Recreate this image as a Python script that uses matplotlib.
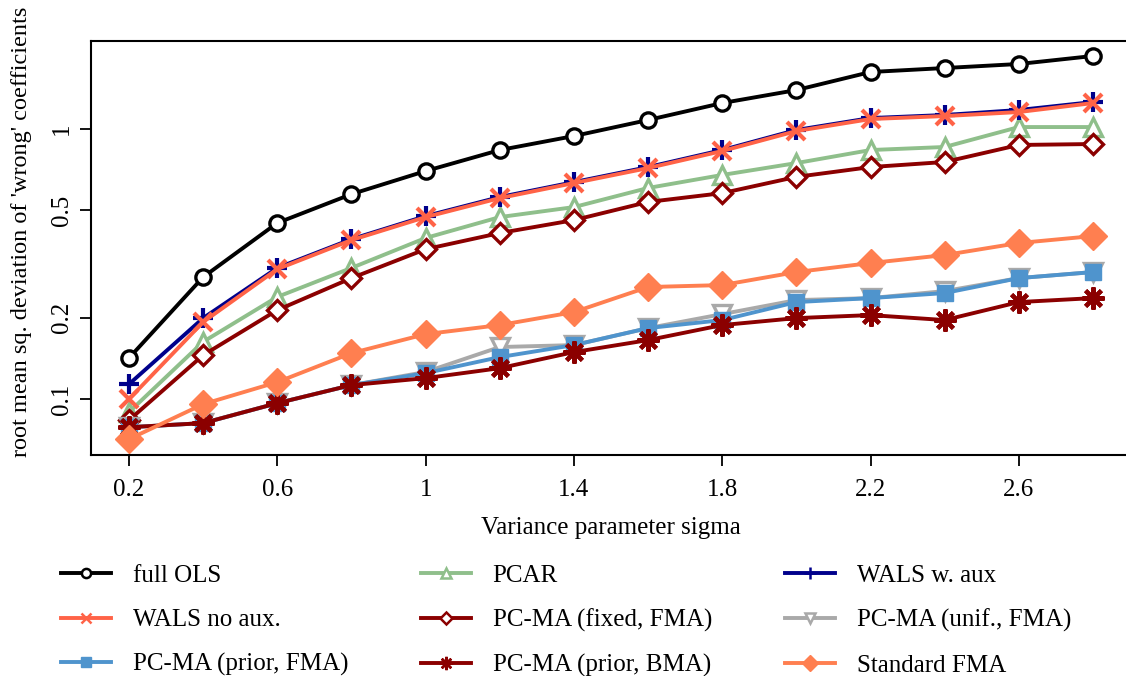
import numpy as np
import matplotlib
matplotlib.use("Agg")
import matplotlib.pyplot as plt

plt.rcParams['font.family'] = ['Liberation Serif', 'DejaVu Serif']

# sigma values on the x axis
sigma = [0.2, 0.4, 0.6, 0.8, 1.0, 1.2, 1.4, 1.6, 1.8, 2.0, 2.2, 2.4, 2.6, 2.8]

# rmse of 'wrong' coefficients
full_ols = [0.142, 0.283, 0.449, 0.574, 0.699, 0.836, 0.942, 1.080, 1.248, 1.394, 1.626, 1.682, 1.741, 1.864]
pcar = [0.0895, 0.163, 0.239, 0.306, 0.395, 0.472, 0.514, 0.605, 0.676, 0.748, 0.836, 0.858, 1.017, 1.017]
wals_aux = [0.1136, 0.1995, 0.306, 0.391, 0.476, 0.560, 0.636, 0.723, 0.836, 0.992, 1.098, 1.127, 1.176, 1.259]
wals_noaux = [0.100, 0.193, 0.303, 0.388, 0.472, 0.555, 0.631, 0.717, 0.829, 0.983, 1.089, 1.117, 1.156, 1.248]
pcma_fixed = [0.0836, 0.1455, 0.2136, 0.2806, 0.359, 0.412, 0.460, 0.537, 0.579, 0.665, 0.723, 0.755, 0.873, 0.880]
pcma_unif = [0.0787, 0.0815, 0.0966, 0.1127, 0.1260, 0.1559, 0.1585, 0.1832, 0.2064, 0.2326, 0.2366, 0.2512, 0.2806, 0.2954]
pcma_prior_fma = [0.0787, 0.0815, 0.0966, 0.1127, 0.1248, 0.1431, 0.1585, 0.1832, 0.1962, 0.2287, 0.2366, 0.247, 0.2806, 0.2954]
pcma_prior_bma = [0.0787, 0.0815, 0.0966, 0.1127, 0.1196, 0.1302, 0.1493, 0.1654, 0.188, 0.1995, 0.2047, 0.1962, 0.2287, 0.2366]
std_fma = [0.0711, 0.0958, 0.1156, 0.148, 0.174, 0.188, 0.210, 0.260, 0.2644, 0.2954, 0.319, 0.3415, 0.3784, 0.4015]

xticks = [0.2, 0.6, 1.0, 1.4, 1.8, 2.2, 2.6]
xticklabels = ['0.2', '0.6', '1', '1.4', '1.8', '2.2', '2.6']
yticks = [0.1, 0.2, 0.5, 1.0]
yticklabels = ['0.1', '0.2', '0.5', '1']

fig = plt.figure(figsize=(11.26, 6.76), dpi=100)
ax = fig.add_axes([91/1126, 1-455/676, 1040/1126, 414/676])

lw = 2.8
ms = 11
mew = 2.4

lines = {}
# halo so the black line stops short of its circles
ax.plot(sigma, full_ols, ls='none', marker='o', ms=17, color='white', zorder=2)
lines['full OLS'] = ax.plot(sigma, full_ols, color='black', lw=lw, marker='o', ms=ms, mfc='white', mew=mew, zorder=3)[0]
lines['PCAR'] = ax.plot(sigma, pcar, color='#8fbf8b', lw=lw, marker='^', ms=13, mfc='white', mew=mew)[0]
lines['WALS w. aux'] = ax.plot(sigma, wals_aux, color='#00008b', lw=lw, marker='+', ms=15, mew=3)[0]
lines['WALS no aux.'] = ax.plot(sigma, wals_noaux, color='#ff6347', lw=lw, marker='x', ms=13, mew=3)[0]
lines['PC-MA (fixed, FMA)'] = ax.plot(sigma, pcma_fixed, color='#8b0000', lw=lw, marker='D', ms=10, mfc='white', mew=mew)[0]
lines['PC-MA (unif., FMA)'] = ax.plot(sigma, pcma_unif, color='#a9a9a9', lw=lw, marker='v', ms=13, mfc='white', mew=mew)[0]
lines['PC-MA (prior, FMA)'] = ax.plot(sigma, pcma_prior_fma, color='#4f94cd', lw=lw, marker='s', ms=12)[0]
lines['PC-MA (prior, BMA)'] = ax.plot(sigma, pcma_prior_bma, color='#8b0000', lw=lw, marker=(8, 2, 0), ms=16, mew=3)[0]
lines['Standard FMA'] = ax.plot(sigma, std_fma, color='#ff7f50', lw=lw, marker='D', ms=14)[0]

ax.set_yscale('log')
ax.set_xlim(0.0975, 2.9025)
ax.set_ylim(0.0621, 2.118)
ax.set_xticks(xticks)
ax.set_xticklabels(xticklabels)
ax.set_yticks(yticks)
ax.set_yticklabels(yticklabels, rotation=90, va='center')
ax.minorticks_off()
ax.tick_params(labelsize=18, length=8, width=1.3, direction='out')
ax.tick_params(axis='x', pad=9)
ax.tick_params(axis='y', pad=5)
for s in ax.spines.values():
    s.set_linewidth(1.5)

ax.set_xlabel('Variance parameter sigma', fontsize=18, labelpad=12)
ax.set_ylabel("root mean sq. deviation of 'wrong' coefficients", fontsize=17.5)
ax.yaxis.set_label_coords(-0.0567, 0.539)

# legend read row-wise in the picture, matplotlib fills columns first
order = ['full OLS', 'WALS no aux.', 'PC-MA (prior, FMA)',
         'PCAR', 'PC-MA (fixed, FMA)', 'PC-MA (prior, BMA)',
         'WALS w. aux', 'PC-MA (unif., FMA)', 'Standard FMA']
leg = fig.legend([lines[k] for k in order], order, ncol=3, loc='upper left',
                 bbox_to_anchor=(0.045, 0.18), frameon=False, fontsize=18,
                 handlelength=2.0, handletextpad=0.88, columnspacing=2.9,
                 labelspacing=0.88, markerscale=0.6, borderaxespad=0)
for h in leg.legend_handles:
    h.set_markeredgewidth(min(h.get_markeredgewidth(), 1.8))

fig.savefig('out.png', dpi=100)
